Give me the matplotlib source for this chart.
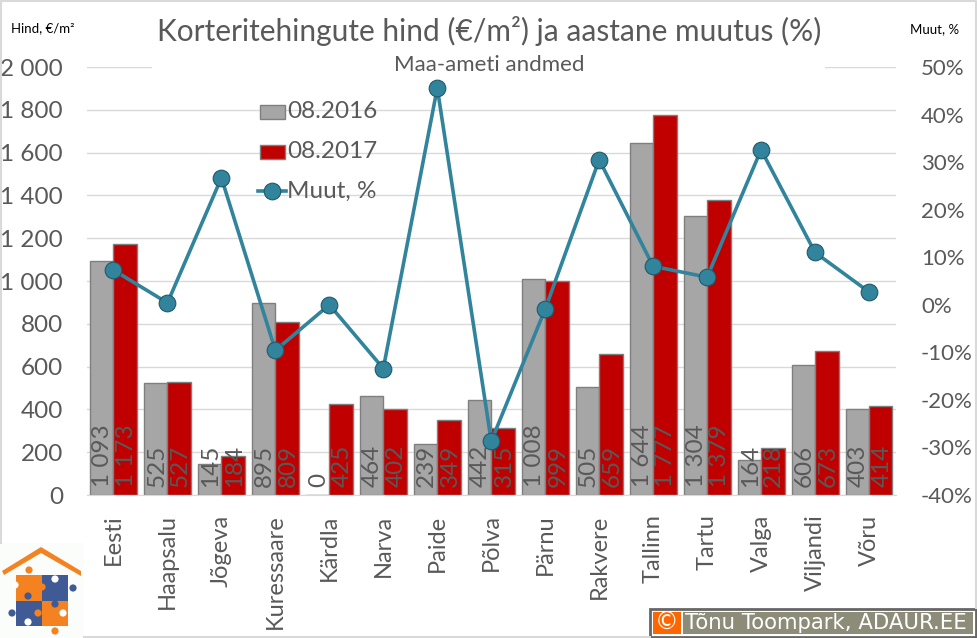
import matplotlib
matplotlib.use("Agg")
import matplotlib.pyplot as plt
from matplotlib.patches import Rectangle, Polygon, Circle
from matplotlib.lines import Line2D
from matplotlib.ticker import FuncFormatter, MultipleLocator
import numpy as np

categories = ["Eesti", "Haapsalu", "Jõgeva", "Kuressaare", "Kärdla", "Narva", "Paide", "Põlva",
              "Pärnu", "Rakvere", "Tallinn", "Tartu", "Valga", "Viljandi", "Võru"]
price_2016 = [1093, 525, 145, 895, 0, 464, 239, 442, 1008, 505, 1644, 1304, 164, 606, 403]
price_2017 = [1173, 527, 184, 809, 425, 402, 349, 315, 999, 659, 1777, 1379, 218, 673, 414]
change_pct = [7.3, 0.4, 26.7, -9.6, 0.0, -13.4, 45.6, -28.7, -0.9, 30.5, 8.1, 5.8, 32.6, 11.0, 2.7]

plt.rcParams["font.family"] = ["Lato", "DejaVu Sans"]
W, H = 977, 638
GREY = "#595959"
fig = plt.figure(figsize=(W / 100, H / 100), dpi=100)

def box(x0, ytop, x1, ybot):
    return [x0 / W, 1 - ybot / H, (x1 - x0) / W, (ybot - ytop) / H]

ax = fig.add_axes(box(86.5, 69, 896, 495))
x = np.arange(len(categories))
bw = 0.435
ax.bar(x - bw / 2, price_2016, bw, color="#A6A6A6", edgecolor="#7F7F7F", linewidth=1, zorder=2)
ax.bar(x + bw / 2, price_2017, bw, color="#C00000", edgecolor="#7F7F7F", linewidth=1, zorder=2)
ax.set_xlim(-0.5, len(categories) - 0.5)
ax.set_ylim(0, 2000)
ax.yaxis.set_major_locator(MultipleLocator(200))
ax.yaxis.set_major_formatter(FuncFormatter(lambda v, _: f"{int(v):,}".replace(",", " ")))
ax.grid(axis="y", color="#D9D9D9", linewidth=1, zorder=0)
ax.set_axisbelow(True)
for s in ["top", "left", "right"]:
    ax.spines[s].set_visible(False)
ax.spines["bottom"].set_color("#D9D9D9")
ax.set_xticks(x)
ax.set_xticklabels(categories, rotation=90, fontsize=17, color=GREY)
ax.tick_params(axis="x", length=0, pad=14)
ax.tick_params(axis="y", length=0, pad=17, labelsize=17.5, labelcolor=GREY)

def fmt(v):
    return f"{v:,}".replace(",", " ")
for i, (a, b) in enumerate(zip(price_2016, price_2017)):
    ax.annotate(fmt(a), (i - bw / 2, 0), xytext=(0.7, 6), textcoords="offset points", rotation=90,
                ha="center", va="bottom", fontsize=17.5, color=GREY, zorder=3)
    ax.annotate(fmt(b), (i + bw / 2, 0), xytext=(0.7, 6), textcoords="offset points", rotation=90,
                ha="center", va="bottom", fontsize=17.5, color=GREY, zorder=3)

ax2 = ax.twinx()
ax2.set_ylim(-40, 50)
ax2.set_position(box(86.5, 67, 896, 495))
ax2.plot(x, change_pct, color="#31849B", linewidth=2.6, marker="o", markersize=12,
         markerfacecolor="#31849B", markeredgecolor="#215968", markeredgewidth=0.8, zorder=5)
ax2.yaxis.set_major_locator(MultipleLocator(10))
ax2.yaxis.set_major_formatter(FuncFormatter(lambda v, _: f"{int(v)}%"))
ax2.tick_params(axis="y", length=0, pad=18, labelsize=16, labelcolor=GREY)
for s in ax2.spines.values():
    s.set_visible(False)

# overlay canvas in pixel coordinates
ov = fig.add_axes([0, 0, 1, 1], zorder=10)
ov.set_xlim(0, W)
ov.set_ylim(H, 0)
ov.axis("off")

# white boxes of the title and subtitle hide the top gridline
ov.add_patch(Rectangle((152, 12), 673, 64, fc="white", ec="none"))
ov.text(489, 31, "Korteritehingute hind (€/m²) ja aastane muutus (%)", ha="center", va="center",
        fontsize=21.5, color=GREY)
ov.text(489, 65, "Maa-ameti andmed", ha="center", va="center", fontsize=16, color=GREY)
ov.text(43, 28, "Hind, €/m²", ha="center", va="center", fontsize=9.5, color="black")
ov.text(935, 29, "Muut, %", ha="center", va="center", fontsize=9.5, color="black")

# legend
ov.add_patch(Rectangle((259.5, 104.5), 25, 14, fc="#A6A6A6", ec="#7F7F7F", lw=1))
ov.add_patch(Rectangle((259.5, 144.5), 25, 14, fc="#C00000", ec="#7F7F7F", lw=1))
ov.add_line(Line2D([258, 286], [191, 191], color="#31849B", lw=2.6))
ov.add_line(Line2D([272], [191], marker="o", ms=12, mfc="#31849B", mec="#215968", mew=0.8))
for yy, t in [(112, "08.2016"), (152, "08.2017"), (191, "Muut, %")]:
    ov.text(287, yy, t, ha="left", va="center", fontsize=17.5, color=GREY)

# frame
ov.add_line(Line2D([1, 1, 976, 976], [543, 1, 1, 608], color="#D9D9D9", lw=1.5))
ov.add_line(Line2D([84, 650], [637, 637], color="#D9D9D9", lw=1.5))

# logo
ORG, BLU = "#F58220", "#3F5A94"
ov.add_patch(Rectangle((0, 543), 84, 95, fc="#FBFDFB", ec="none"))
ov.add_patch(Polygon([(2, 571), (41, 547), (81, 571), (81, 576), (41, 553), (4, 575)], fc=ORG, ec="none"))
ov.add_patch(Rectangle((16, 575), 26, 25.5, fc=ORG, ec="none"))
ov.add_patch(Rectangle((42, 575), 26, 25.5, fc=BLU, ec="none"))
ov.add_patch(Rectangle((16, 600.5), 26, 25.5, fc=BLU, ec="none"))
ov.add_patch(Rectangle((42, 600.5), 26, 25.5, fc=ORG, ec="none"))
for cx, cy, c in [(29, 570, ORG), (73, 588, BLU), (12, 613, BLU), (55, 631, ORG),
                  (28, 596, BLU), (55, 604, BLU), (38, 613, ORG), (42, 587, ORG)]:
    ov.add_patch(Circle((cx, cy), 3.6, fc=c, ec="none"))
for cx, cy in [(15, 585), (55, 579), (28, 622), (63, 613)]:
    ov.add_patch(Circle((cx, cy), 3.6, fc="white", ec="none"))

# credit
ov.add_patch(Rectangle((649, 608), 328, 30, fc="white", ec="none"))
ov.add_patch(Rectangle((650, 609), 326, 28, fc="none", ec="#666666", lw=2))
ov.add_patch(Rectangle((653, 612), 28, 22, fc="#FF6600", ec="none"))
ov.add_patch(Rectangle((683, 612), 290, 22, fc="#8C8C78", ec="none"))
ov.text(667, 622.5, "©", ha="center", va="center", fontsize=17, color="white", family="DejaVu Sans")
ov.text(685, 623, "Tõnu Toompark, ADAUR.EE", ha="left", va="center", fontsize=15.3, color="white",
        family="DejaVu Sans")

fig.savefig("out.png", dpi=100)
